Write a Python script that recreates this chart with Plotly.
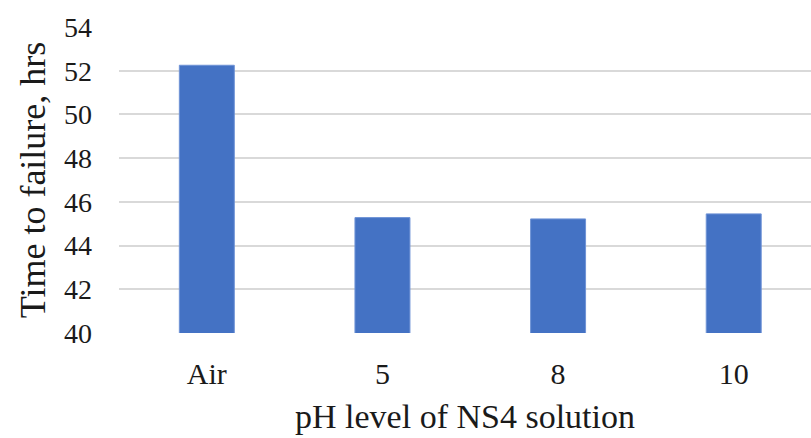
import plotly.graph_objects as go

categories = ["Air", "5", "8", "10"]
time_to_failure = [52.25, 45.28, 45.22, 45.45]
y_ticks = [40, 42, 44, 46, 48, 50, 52, 54]

SERIF = "Liberation Serif, Times New Roman, serif"

fig = go.Figure()
fig.add_trace(
    go.Bar(
        x=list(range(len(categories))),
        y=time_to_failure,
        base=0,
        width=0.313,
        marker=dict(color="#4472C4", line=dict(color="#6f93d6", width=1)),
        showlegend=False,
    )
)

fig.update_layout(
    width=811,
    height=438,
    margin=dict(l=119, r=0, t=27, b=105),
    paper_bgcolor="white",
    plot_bgcolor="white",
    font=dict(family=SERIF, color="#1a1a1a"),
    xaxis=dict(
        tickmode="array",
        tickvals=list(range(len(categories))),
        ticktext=categories,
        range=[-0.5, 3.44],
        showgrid=False,
        showline=False,
        zeroline=False,
        automargin=False,
        tickfont=dict(size=30),
        ticklabelstandoff=20,
        title=dict(text="pH level of NS4 solution", font=dict(size=34), standoff=15),
    ),
    yaxis=dict(
        range=[40, 54],
        tickvals=y_ticks,
        showgrid=True,
        gridcolor="#d9d9d9",
        gridwidth=1.5,
        zeroline=False,
        showline=False,
        automargin=False,
        tickfont=dict(size=28),
        ticklabelstandoff=26,
        title=dict(text="Time to failure, hrs", font=dict(size=36), standoff=7),
    ),
)

# page body has a default 8px margin; drop it so the figure sits at the corner
fig.write_html(
    "out.html",
    config={"displayModeBar": False},
    post_script="document.body.style.margin='0';",
)
